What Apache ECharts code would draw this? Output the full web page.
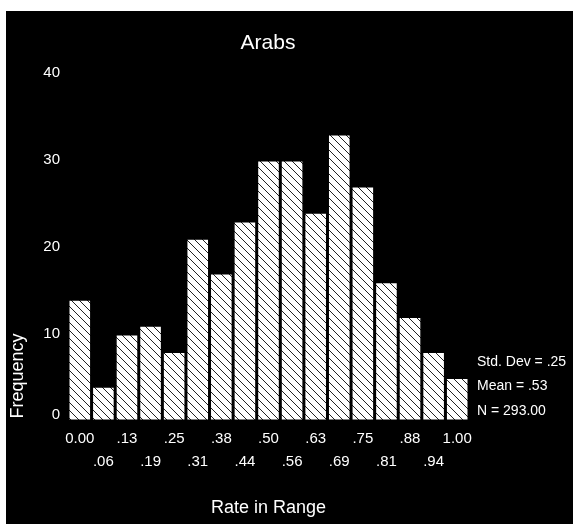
<!DOCTYPE html>
<html>
<head>
<meta charset="utf-8">
<script src="https://cdn.jsdelivr.net/npm/echarts@6/dist/echarts.min.js"></script>
<style>
html,body{margin:0;padding:0;background:#fff;width:575px;height:524px;overflow:hidden;}
#chart{position:absolute;left:6px;top:11px;width:567px;height:513px;background:#000;}
</style>
</head>
<body>
<div id="chart"></div>
<script>
var categories = ['0.00','.06','.13','.19','.25','.31','.38','.44','.50','.56','.63','.69','.75','.81','.88','.94','1.00'];
var frequencies = [14,4,10,11,8,21,17,23,30,30,24,33,27,16,12,8,5];
var yTicks = [0,10,20,30,40];
var titleText = 'Arabs';
var xAxisTitle = 'Rate in Range';
var yAxisTitle = 'Frequency';
var statsLines = ['Std. Dev = .25','Mean = .53','N = 293.00'];

var FONT = '"Liberation Sans", Arial, sans-serif';

function makeHatch(){
  var s = 8;
  var c = document.createElement('canvas');
  c.width = s; c.height = s;
  var g = c.getContext('2d');
  g.fillStyle = '#fff';
  g.fillRect(0,0,s,s);
  g.strokeStyle = '#222';
  g.lineWidth = 1;
  g.beginPath();
  g.moveTo(-1,-1); g.lineTo(s+1,s+1);
  g.moveTo(-1,s-1); g.lineTo(1,s+1);
  g.moveTo(s-1,-1); g.lineTo(s+1,1);
  g.stroke();
  return c;
}

var chart = echarts.init(document.getElementById('chart'), null, {renderer:'canvas'});
var option = {
  backgroundColor: '#000',
  animation: false,
  grid: {left: 62, right: 104, top: 62, bottom: 103, containLabel: false},
  xAxis: {
    type: 'category',
    data: categories,
    axisLine: {show: false},
    axisTick: {show: false},
    axisLabel: {
      interval: 0,
      color: '#fff',
      fontFamily: FONT,
      fontSize: 15,
      lineHeight: 23,
      margin: 6,
      formatter: function(v, i){ return (i % 2) ? '\n' + v : v; }
    },
    name: xAxisTitle,
    nameLocation: 'middle',
    nameGap: 78,
    nameTextStyle: {color:'#fff', fontFamily: FONT, fontSize: 18}
  },
  yAxis: {
    type: 'value',
    min: yTicks[0],
    max: yTicks[yTicks.length-1],
    interval: yTicks[1]-yTicks[0],
    axisLine: {show: false},
    axisTick: {show: false},
    splitLine: {show: false},
    axisLabel: {
      color: '#fff',
      fontFamily: FONT,
      fontSize: 15,
      margin: 8,
      formatter: function(v){ return v === 0 ? '{z|0}' : String(v); },
      rich: {z: {color:'#fff', fontFamily: FONT, fontSize: 15, padding:[0,0,12,0]}}
    }
  },
  series: [{
    type: 'bar',
    data: frequencies,
    barCategoryGap: '0%',
    itemStyle: {
      color: {image: makeHatch(), repeat: 'repeat'},
      borderColor: '#000',
      borderWidth: 1.5
    }
  }],
  graphic: [
    {type:'text', x: 262, y: 32, style:{text: titleText, fill:'#fff', font: '21px ' + FONT, textAlign:'center', textVerticalAlign:'middle'}},
    {type:'text', x: 12, y: 365, rotation: Math.PI/2, style:{text: yAxisTitle, fill:'#fff', font: '18px ' + FONT, textAlign:'center', textVerticalAlign:'middle'}},
    {type:'text', x: 471, y: 351, style:{text: statsLines[0], fill:'#fff', font: '14px ' + FONT, textAlign:'left', textVerticalAlign:'middle'}},
    {type:'text', x: 471, y: 375, style:{text: statsLines[1], fill:'#fff', font: '14px ' + FONT, textAlign:'left', textVerticalAlign:'middle'}},
    {type:'text', x: 471, y: 400, style:{text: statsLines[2], fill:'#fff', font: '14px ' + FONT, textAlign:'left', textVerticalAlign:'middle'}}
  ]
};
chart.setOption(option);
</script>
</body>
</html>
